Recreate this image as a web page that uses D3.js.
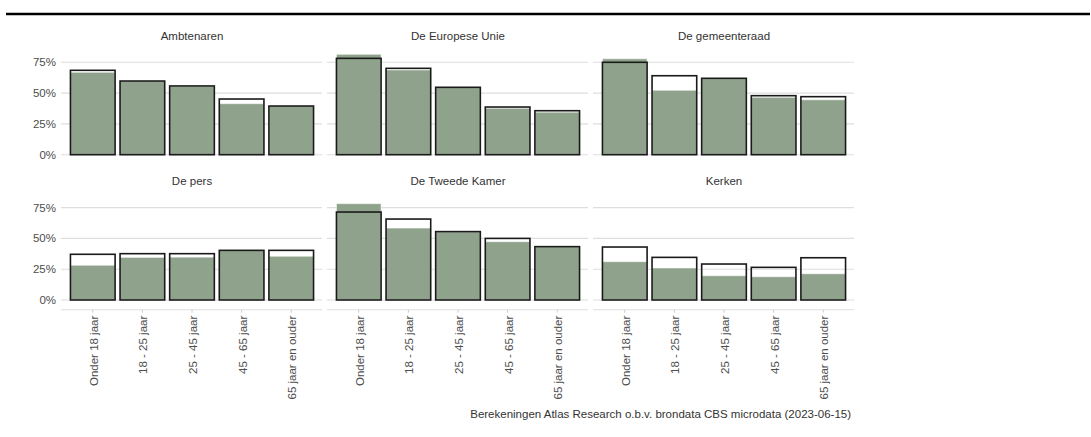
<!DOCTYPE html>
<html>
<head>
<meta charset="utf-8">
<script src="https://cdn.jsdelivr.net/npm/d3@7"></script>
<style>
  html, body { margin: 0; padding: 0; background: #fff; }
  svg { display: block; font-family: "Liberation Sans", Arial, sans-serif; }
</style>
</head>
<body>
<svg id="chart" width="1091" height="437"></svg>
<script>
const categories = ["Onder 18 jaar", "18 - 25 jaar", "25 - 45 jaar", "45 - 65 jaar", "65 jaar en ouder"];
const panelNames = ["Ambtenaren", "De Europese Unie", "De gemeenteraad", "De pers", "De Tweede Kamer", "Kerken"];
const filledAmbtenaren = [0.669, 0.597, 0.556, 0.414, 0.394];
const filledEU = [0.815, 0.688, 0.545, 0.377, 0.345];
const filledGemeenteraad = [0.779, 0.523, 0.618, 0.466, 0.446];
const filledPers = [0.282, 0.346, 0.348, 0.402, 0.355];
const filledTweedeKamer = [0.782, 0.584, 0.553, 0.473, 0.432];
const filledKerken = [0.311, 0.260, 0.197, 0.189, 0.213];
const outlineAmbtenaren = [0.685, 0.598, 0.558, 0.452, 0.395];
const outlineEU = [0.782, 0.701, 0.547, 0.387, 0.357];
const outlineGemeenteraad = [0.750, 0.641, 0.620, 0.479, 0.471];
const outlinePers = [0.371, 0.376, 0.376, 0.403, 0.403];
const outlineTweedeKamer = [0.714, 0.657, 0.555, 0.500, 0.433];
const outlineKerken = [0.430, 0.346, 0.292, 0.265, 0.343];
const yTicks = [0, 0.25, 0.5, 0.75];
const caption = "Berekeningen Atlas Research o.b.v. brondata CBS microdata (2023-06-15)";

const filled = [filledAmbtenaren, filledEU, filledGemeenteraad, filledPers, filledTweedeKamer, filledKerken];
const outlined = [outlineAmbtenaren, outlineEU, outlineGemeenteraad, outlinePers, outlineTweedeKamer, outlineKerken];

const svg = d3.select("#chart");

// top rule
svg.append("line").attr("x1", 6).attr("x2", 1090).attr("y1", 14).attr("y2", 14)
  .attr("stroke", "#000").attr("stroke-width", 2.6);

const panelX0 = 63, panelStep = 266, panelW = 258;
const rowZero = [154.7, 300];
const unit25 = 30.8;
const fs = 11.5;

const fmt = d3.format(".0%");

panelNames.forEach((name, i) => {
  const col = i % 3, row = Math.floor(i / 3);
  const x0 = panelX0 + col * panelStep;
  const zero = rowZero[row];
  const x = d3.scaleBand().domain(categories).range([x0, x0 + panelW]).paddingInner(0.1).paddingOuter(0.15);
  const y = d3.scaleLinear().domain([0, 0.25]).range([zero, zero - unit25]);
  const g = svg.append("g");

  // gridlines
  g.selectAll("line.grid").data(yTicks).join("line")
    .attr("x1", x0 - 2).attr("x2", x0 + panelW + 1)
    .attr("y1", d => y(d)).attr("y2", d => y(d))
    .attr("stroke", "#dedede").attr("stroke-width", 1.1);

  // y labels on left column
  if (col === 0) {
    g.selectAll("text.ylab").data(yTicks).join("text")
      .attr("x", x0 - 7).attr("y", d => y(d)).attr("dy", "0.35em")
      .attr("text-anchor", "end").attr("font-size", fs).attr("fill", "#4d4d4d")
      .text(d => fmt(d));
  }

  // strip title
  g.append("text").attr("x", x0 + panelW / 2).attr("y", row === 0 ? 40 : 185)
    .attr("text-anchor", "middle").attr("font-size", fs).attr("fill", "#333")
    .text(name);

  // filled bars
  g.selectAll("rect.fill").data(categories.map((c, k) => ({ c, v: filled[i][k] }))).join("rect")
    .attr("x", d => x(d.c)).attr("width", x.bandwidth())
    .attr("y", d => y(d.v)).attr("height", d => y(0) - y(d.v))
    .attr("fill", "#8fa38c").attr("stroke", "#ffffff").attr("stroke-opacity", 0.55).attr("stroke-width", 1);

  // outlined bars
  g.selectAll("rect.outline").data(categories.map((c, k) => ({ c, v: outlined[i][k] }))).join("rect")
    .attr("x", d => x(d.c)).attr("width", x.bandwidth())
    .attr("y", d => y(d.v)).attr("height", d => y(0) - y(d.v))
    .attr("fill", "none").attr("stroke", "#1a1a1a").attr("stroke-width", 1.6);

  // x axis on bottom row
  if (row === 1) {
    const axisY = zero + 9.7;
    g.append("line").attr("x1", x0 - 2).attr("x2", x0 + panelW + 1)
      .attr("y1", axisY).attr("y2", axisY).attr("stroke", "#dedede").attr("stroke-width", 1.1);
    g.selectAll("line.tick").data(categories).join("line")
      .attr("x1", d => x(d) + x.bandwidth() / 2).attr("x2", d => x(d) + x.bandwidth() / 2)
      .attr("y1", axisY).attr("y2", axisY + 3).attr("stroke", "#cccccc");
    g.selectAll("text.xlab").data(categories).join("text")
      .attr("transform", d => `translate(${x(d) + x.bandwidth() / 2 + 1},${axisY + 6}) rotate(-90)`)
      .attr("dy", "0.35em").attr("text-anchor", "end")
      .attr("font-size", fs).attr("fill", "#4d4d4d")
      .text(d => d);
  }
});

svg.append("text").attr("x", panelX0 + 2 * panelStep + panelW - 2).attr("y", 418)
  .attr("text-anchor", "end").attr("font-size", fs).attr("fill", "#333")
  .text(caption);
</script>
</body>
</html>
